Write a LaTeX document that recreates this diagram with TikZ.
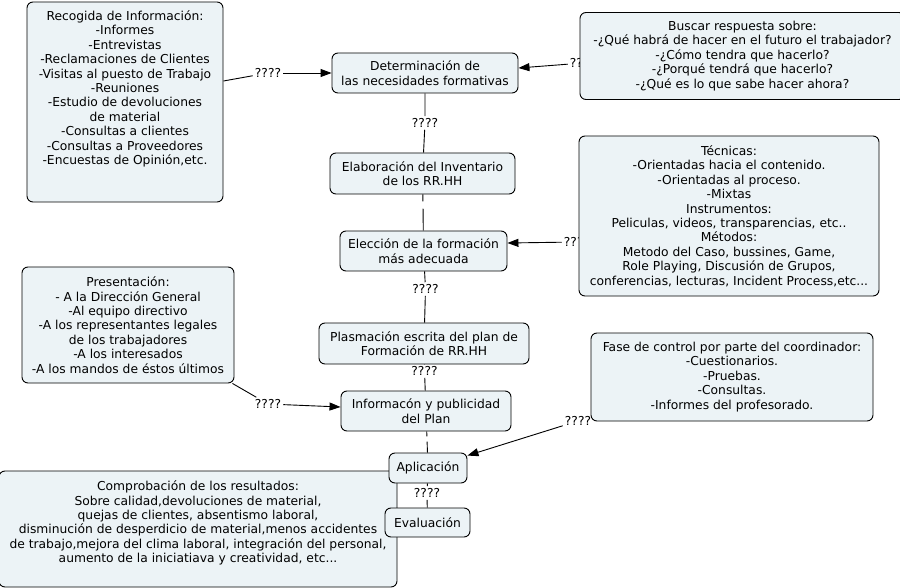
\documentclass[tikz,border=0pt]{standalone}
\usepackage{fontspec}
\setmainfont{DejaVu Sans}
\usetikzlibrary{arrows.meta,backgrounds}
\definecolor{boxfill}{RGB}{236,243,246}
\begin{document}
\begin{tikzpicture}[x=1pt,y=-1pt,
  box/.style={draw=black, fill=boxfill, rounded corners=6pt, line width=0.9pt, align=center, inner sep=0pt, font=\fontsize{12.3}{14.4}\selectfont},
  lbl/.style={inner sep=2pt, font=\fontsize{12.3}{14.4}\selectfont},
  gapnode/.style={inner sep=0pt, minimum height=#1, minimum width=1pt},
  conn/.style={line width=0.9pt},
  arr/.style={conn, -{Triangle[length=11pt,width=8pt]}}
]
\useasboundingbox (0,0) rectangle (900,588);
\clip (0,0) rectangle (900,588);

\node[box, minimum width=398pt, minimum height=116pt] (comp) at (198,529) {Comprobación de los resultados:\\Sobre calidad,devoluciones de material,\\ quejas de clientes, absentismo laboral,\\disminución de desperdicio de material,menos accidentes\\de trabajo,mejora del clima laboral, integración del personal,\\aumento de la iniciatiava y creatividad, etc...\\\mbox{}};

\node[box, minimum width=196pt, minimum height=200pt] (rec) at (125,102) {Recogida de Información:\\-Informes\\-Entrevistas\\-Reclamaciones de Clientes\\-Visitas al puesto de Trabajo\\-Reuniones\\-Estudio de devoluciones\\de material\\-Consultas a clientes\\-Consultas a Proveedores\\-Encuestas de Opinión,etc.\\\mbox{}\\\mbox{}};

\node[box, minimum width=186pt, minimum height=40pt] (det) at (425,73) {Determinación de\\las necesidades formativas};

\node[box, minimum width=325pt, minimum height=87pt] (bus) at (742.5,56) {Buscar respuesta sobre:\\-¿Qué habrá de hacer en el futuro el trabajador?\\-¿Cómo tendra que hacerlo?\\-¿Porqué tendrá que hacerlo?\\-¿Qué es lo que sabe hacer ahora?};

\node[box, minimum width=185pt, minimum height=41pt] (elab) at (422.5,173.5) {Elaboración del Inventario\\de los RR.HH};

\node[box, minimum width=300pt, minimum height=160pt] (tec) at (729,216) {Técnicas:\\-Orientadas hacia el contenido.\\-Orientadas al proceso.\\-Mixtas\\Instrumentos:\\Peliculas, videos, transparencias, etc..\\Métodos:\\Metodo del Caso, bussines, Game,\\Role Playing, Discusión de Grupos,\\conferencias, lecturas, Incident Process,etc...};

\node[box, minimum width=167pt, minimum height=40pt] (elec) at (423.5,251) {Elección de la formación\\más adecuada};

\node[box, minimum width=212pt, minimum height=116pt] (pres) at (128,325) {Presentación:\\- A la Dirección General\\-Al equipo directivo\\-A los representantes legales\\de los trabajadores\\-A los interesados\\-A los mandos de éstos últimos};

\node[box, minimum width=210pt, minimum height=41pt] (plas) at (424,343.5) {Plasmación escrita del plan de\\Formación de RR.HH};

\node[box, minimum width=170pt, minimum height=40pt] (info) at (426,411) {Informacón y publicidad\\del Plan};

\node[box, minimum width=282pt, minimum height=88pt] (fase) at (732,377) {Fase de control por parte del coordinador:\\-Cuestionarios.\\-Pruebas.\\-Consultas.\\-Informes del profesorado.};

\node[box, minimum width=78pt, minimum height=30pt] (apl) at (428,468) {Aplicación};

\node[box, minimum width=85pt, minimum height=29pt] (eval) at (427.5,522.5) {Evaluación};

\begin{scope}[on background layer]
\node[lbl] (l1) at (268,73) {????};
\node[lbl] (l2) at (583,63) {????};
\node[lbl] (l3) at (425,123) {????};
\node[gapnode=7pt] (l4) at (423,205) {};
\node[lbl] (l5) at (577,242) {????};
\node[lbl] (l6) at (425.5,289) {????};
\node[lbl] (l7) at (424.5,371) {????};
\node[lbl] (l8) at (268,404) {????};
\node[lbl] (l9) at (578,421) {????};
\node[gapnode=5pt] (l10) at (427,439) {};
\node[lbl] (l11) at (427,493) {????};

\draw[conn] ([yshift=21pt]rec.east) -- (l1);
\draw[arr] (l1) -- (det.west);
\draw[arr] (l2) -- ([yshift=5pt]det.east);
\draw[conn] (det) -- (l3) -- (elab);
\draw[conn] (elab) -- (l4) -- (elec);
\draw[arr] (l5) -- ([yshift=8pt]elec.east);
\draw[conn] (elec) -- (l6) -- (plas);
\draw[conn] (plas) -- (l7) -- (info);
\draw[conn] ([xshift=-2pt]pres.south east) -- (l8);
\draw[arr] (l8) -- ([yshift=4pt]info.west);
\draw[arr] (l9) -- ([yshift=-3pt]apl.north east);
\draw[conn] (info) -- (l10) -- (apl);
\draw[conn] (apl) -- (l11) -- (eval);
\end{scope}
\end{tikzpicture}
\end{document}
